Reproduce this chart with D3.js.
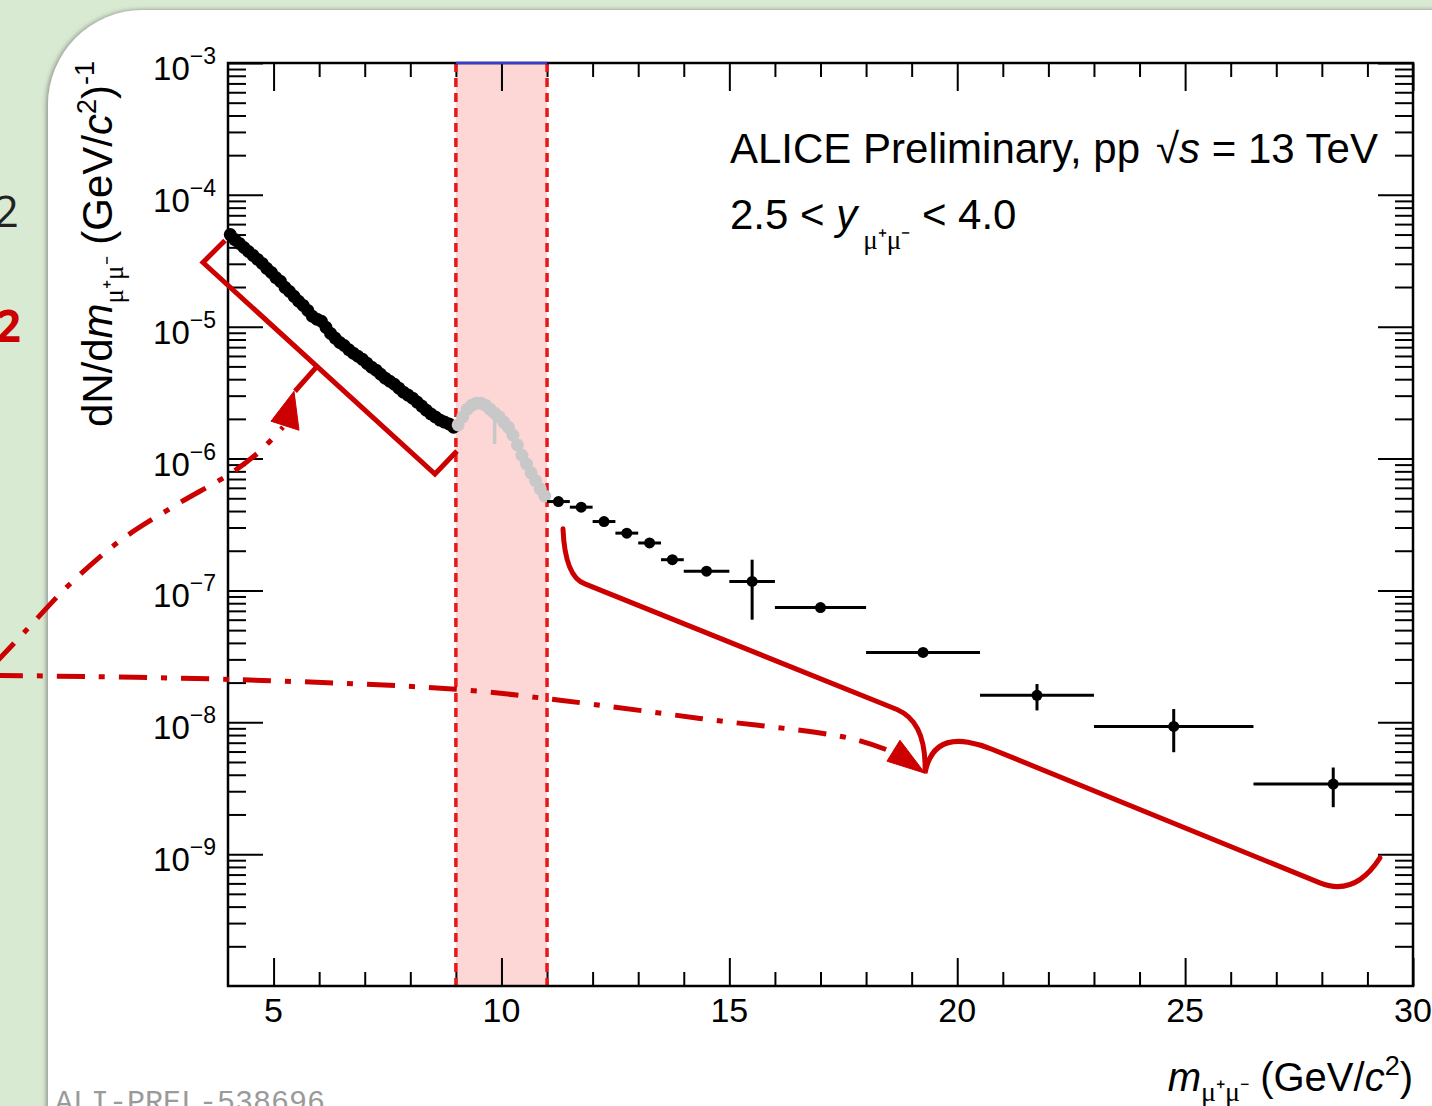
<!DOCTYPE html>
<html><head><meta charset="utf-8">
<script src="https://cdn.jsdelivr.net/npm/d3@7"></script>
<style>
html,body{margin:0;padding:0;background:#d9ead3;overflow:hidden;}
svg{display:block;}
</style></head><body>
<svg id="c" width="1432" height="1106"></svg>
<script>
// ---------------- data ----------------
// low-mass continuum (black, 0.1 GeV bins)
const lowMassX = [4.05,4.15,4.25,4.35,4.45,4.55,4.65,4.75,4.85,4.95,5.05,5.15,5.25,5.35,5.45,5.55,5.65,5.75,5.85,5.95,
  6.05,6.15,6.25,6.35,6.45,6.55,6.65,6.75,6.85,6.95,7.05,7.15,7.25,7.35,7.45,7.55,7.65,7.75,7.85,7.95,
  8.05,8.15,8.25,8.35,8.45,8.55,8.65,8.75,8.85,8.95];
const lowMassY = [5.00e-5,4.58e-5,4.28e-5,3.99e-5,3.72e-5,3.47e-5,3.24e-5,3.02e-5,2.77e-5,2.58e-5,
  2.36e-5,2.21e-5,1.99e-5,1.85e-5,1.70e-5,1.56e-5,1.45e-5,1.33e-5,1.20e-5,1.14e-5,
  1.10e-5,9.9e-6,8.9e-6,8.2e-6,7.6e-6,7.2e-6,6.7e-6,6.3e-6,5.97e-6,5.66e-6,
  5.28e-6,4.93e-6,4.68e-6,4.36e-6,4.07e-6,3.86e-6,3.66e-6,3.42e-6,3.19e-6,3.03e-6,
  2.87e-6,2.68e-6,2.50e-6,2.33e-6,2.18e-6,2.07e-6,1.96e-6,1.89e-6,1.83e-6,1.73e-6];
// Upsilon region (grey, 0.1 GeV bins)
const upsX = [9.05,9.15,9.25,9.35,9.45,9.55,9.65,9.75,9.85,9.95,10.05,10.15,10.25,10.35,10.45,10.55,10.65,10.75,10.85,10.95];
const upsY = [1.80e-6,2.07e-6,2.37e-6,2.54e-6,2.63e-6,2.63e-6,2.54e-6,2.37e-6,2.21e-6,2.07e-6,
  1.89e-6,1.73e-6,1.51e-6,1.27e-6,1.06e-6,9.1e-7,7.8e-7,6.8e-7,5.9e-7,5.2e-7];
const upsBarX = [9.85], upsBarLo = [1.29e-6], upsBarHi = [2.40e-6];
// high-mass points (black, variable bins)
const highX   = [11.25,11.75,12.25,12.75,13.25,13.75,14.5,15.5,17,19.25,21.75,24.75,28.25];
const highXlo = [11,11.5,12,12.5,13,13.5,14,15,16,18,20.5,23,26.5];
const highXhi = [11.5,12,12.5,13,13.5,14,15,16,18,20.5,23,26.5,30];
const highY   = [4.72e-7,4.28e-7,3.33e-7,2.72e-7,2.29e-7,1.71e-7,1.40e-7,1.17e-7,7.41e-8,3.39e-8,1.60e-8,9.3e-9,3.40e-9];
const highYlo = [4.45e-7,4.03e-7,3.12e-7,2.55e-7,2.14e-7,1.60e-7,1.31e-7,6.0e-8,7.05e-8,3.18e-8,1.23e-8,5.93e-9,2.27e-9];
const highYhi = [5.00e-7,4.54e-7,3.55e-7,2.90e-7,2.45e-7,1.83e-7,1.50e-7,1.71e-7,7.80e-8,3.62e-8,1.95e-8,1.26e-8,4.54e-9];
// excluded band
const bandRange = [9, 11];
// axis ticks
const xTicks = [5,10,15,20,25,30];
const xMinorTicks = [6,7,8,9,11,12,13,14,16,17,18,19,21,22,23,24,26,27,28,29];
const yTickExps = [-3,-4,-5,-6,-7,-8,-9];
// slide annotations (data coordinates)
const bracketPts = [[3.934,4.51e-5],[3.451,3.07e-5],[8.541,7.64e-7],[9.024,1.14e-6]];
const stubPts = [[5.953,5.01e-6],[5.470,3.24e-6]];
const arrow1Tri = [[5.448,3.24e-6],[4.943,1.92e-6],[5.558,1.64e-6]];
const dashCurve1 = [[-1.112,2.79e-8],[-0.454,4.88e-8],[0.534,1.12e-7],[1.631,2.38e-7],[2.793,4.31e-7],[4.110,7.93e-7],[4.702,1.14e-6],[5.207,1.73e-6]];
const dashCurve2 = [[-1.112,2.27e-8],[4.110,2.11e-8],[9.002,1.78e-8],[11.284,1.47e-8],[14.356,1.07e-8],[17.646,7.57e-9],[18.480,6.14e-9]];
const arrow2Tri = [[19.292,4.11e-9],[18.458,5.07e-9],[18.743,7.31e-9]];
const braceSegs = [
  ['M',[11.350,2.93e-7]],
  ['Q',[11.394,1.27e-7],[11.832,1.12e-7]],
  ['L',[18.678,1.25e-8]],
  ['Q',[19.336,1.00e-8],[19.292,4.11e-9]],
  ['Q',[19.445,7.84e-9],[20.235,7.06e-9]],
  ['Q',[20.499,6.82e-9],[20.762,6.25e-9]],
  ['L',[27.958,6.05e-10]],
  ['Q',[28.726,4.74e-10],[29.274,9.36e-10]]
];

// ---------------- drawing ----------------
const W = 1432, H = 1106;
const FONT = '"Liberation Sans", Arial, Helvetica, sans-serif';
const SERIF = '"Liberation Serif", "Times New Roman", serif';
const RED = '#cc0000';
const svg = d3.select('#c');

const x = d3.scaleLinear().domain([4, 30]).range([228, 1413]);
const y = d3.scaleLog().domain([1e-10, 1e-3]).range([986, 63]);
const X0 = x.range()[0], X1 = x.range()[1], Y0 = y.range()[1], Y1 = y.range()[0];

// slide background + card
svg.append('rect').attr('width', W).attr('height', H).attr('fill', '#d9ead3');
const defs = svg.append('defs');
const flt = defs.append('filter').attr('id', 'sh').attr('x', '-5%').attr('y', '-5%').attr('width', '110%').attr('height', '110%');
flt.append('feDropShadow').attr('dx', -1.5).attr('dy', 0).attr('stdDeviation', 2.5)
  .attr('flood-color', '#666').attr('flood-opacity', 0.7);
svg.append('path').attr('d', 'M48,1140 L48,105 A95,95 0 0 1 143,10 L1480,10 L1480,1140 Z')
  .attr('fill', '#fff').attr('filter', 'url(#sh)');

// cut-off slide text on the left
svg.append('text').attr('x', 19).attr('y', 227).attr('text-anchor', 'end')
  .style('font-family', '"Open Sans", sans-serif').style('font-size', '44px').attr('fill', '#222').text('2');
svg.append('text').attr('x', 21).attr('y', 342).attr('text-anchor', 'end')
  .style('font-family', '"Open Sans", sans-serif').style('font-size', '44px').style('font-weight', 'bold')
  .attr('fill', RED).text('2');

// excluded band
svg.append('rect').attr('x', x(bandRange[0])).attr('y', Y0).attr('width', x(bandRange[1]) - x(bandRange[0]))
  .attr('height', Y1 - Y0).attr('fill', '#fdd6d6');

// axes ticks
function styleAxis(g) {
  g.select('.domain').remove();
  g.selectAll('line').attr('stroke', '#000').attr('stroke-width', 2);
  g.selectAll('text').remove();
}
const majorsY = yTickExps.map(e => Math.pow(10, e));
const minorsY = [];
for (let e = -10; e < -3; e++) for (let k = 2; k <= 9; k++) minorsY.push(k * Math.pow(10, e));

svg.append('g').attr('transform', `translate(${X0},0)`).call(d3.axisLeft(y).tickValues(majorsY).tickSize(-35).tickFormat('')).call(styleAxis);
svg.append('g').attr('transform', `translate(${X0},0)`).call(d3.axisLeft(y).tickValues(minorsY).tickSize(-18).tickFormat('')).call(styleAxis);
svg.append('g').attr('transform', `translate(${X1},0)`).call(d3.axisRight(y).tickValues(majorsY).tickSize(-35).tickFormat('')).call(styleAxis);
svg.append('g').attr('transform', `translate(${X1},0)`).call(d3.axisRight(y).tickValues(minorsY).tickSize(-18).tickFormat('')).call(styleAxis);
svg.append('g').attr('transform', `translate(0,${Y1})`).call(d3.axisBottom(x).tickValues(xTicks).tickSize(-28).tickFormat('')).call(styleAxis);
svg.append('g').attr('transform', `translate(0,${Y1})`).call(d3.axisBottom(x).tickValues(xMinorTicks).tickSize(-14).tickFormat('')).call(styleAxis);
svg.append('g').attr('transform', `translate(0,${Y0})`).call(d3.axisTop(x).tickValues(xTicks).tickSize(-28).tickFormat('')).call(styleAxis);
svg.append('g').attr('transform', `translate(0,${Y0})`).call(d3.axisTop(x).tickValues(xMinorTicks).tickSize(-14).tickFormat('')).call(styleAxis);

// band edges
bandRange.forEach(v => {
  svg.append('line').attr('x1', x(v)).attr('x2', x(v)).attr('y1', Y0).attr('y2', Y1)
    .attr('stroke', '#e81818').attr('stroke-width', 3.5).attr('stroke-dasharray', '9,6');
});

// frame
svg.append('rect').attr('x', X0).attr('y', Y0).attr('width', X1 - X0).attr('height', Y1 - Y0)
  .attr('fill', 'none').attr('stroke', '#000').attr('stroke-width', 2.5);
svg.append('line').attr('x1', x(bandRange[0])).attr('x2', x(bandRange[1])).attr('y1', Y0).attr('y2', Y0)
  .attr('stroke', '#3a3acc').attr('stroke-width', 2.5);

// tick labels
yTickExps.forEach(e => {
  const t = svg.append('text').attr('x', 216).attr('y', y(Math.pow(10, e)) + 17).attr('text-anchor', 'end')
    .style('font-family', FONT).style('font-size', '33px').attr('fill', '#000');
  t.append('tspan').text('10');
  t.append('tspan').attr('dy', -16).style('font-size', '23px').text('\u2212' + Math.abs(e));
});
xTicks.forEach(v => {
  svg.append('text').attr('x', x(v)).attr('y', 1022).attr('text-anchor', 'middle')
    .style('font-family', FONT).style('font-size', '34px').attr('fill', '#000').text(v);
});

// axis titles
{
  const t = svg.append('text').attr('x', X1).attr('y', 1091).attr('text-anchor', 'end')
    .style('font-family', FONT).style('font-size', '40px').attr('fill', '#000');
  t.append('tspan').style('font-style', 'italic').text('m');
  t.append('tspan').attr('dy', 10).style('font-size', '28px').style('font-family', SERIF).text('\u03bc\u207a\u03bc\u207b');
  t.append('tspan').attr('dy', -10).text(' (GeV/');
  t.append('tspan').style('font-style', 'italic').text('c');
  t.append('tspan').attr('dy', -16).style('font-size', '27px').text('2');
  t.append('tspan').attr('dy', 16).text(')');
}
{
  const t = svg.append('text').attr('transform', `translate(112,${Y0 - 2}) rotate(-90)`).attr('text-anchor', 'end')
    .style('font-family', FONT).style('font-size', '42px').attr('fill', '#000');
  t.append('tspan').text('dN/d');
  t.append('tspan').style('font-style', 'italic').text('m');
  t.append('tspan').attr('dy', 11).style('font-size', '27px').style('font-family', SERIF).text('\u03bc\u207a\u03bc\u207b');
  t.append('tspan').attr('dy', -11).text(' (GeV/');
  t.append('tspan').style('font-style', 'italic').text('c');
  t.append('tspan').attr('dy', -16).style('font-size', '27px').text('2');
  t.append('tspan').attr('dy', 16).text(')');
  t.append('tspan').attr('dy', -18).style('font-size', '27px').text('-1');
}

// legend text
{
  const t = svg.append('text').attr('x', 730).attr('y', 163)
    .style('font-family', FONT).style('font-size', '42px').attr('fill', '#000');
  t.append('tspan').text('ALICE Preliminary, pp');
  t.append('tspan').attr('dx', 16).style('font-weight', '300').text('\u221a');
  t.append('tspan').style('font-style', 'italic').text('s');
  t.append('tspan').text(' = 13 TeV');
  const t2 = svg.append('text').attr('x', 730).attr('y', 229)
    .style('font-family', FONT).style('font-size', '42px').attr('fill', '#000');
  t2.append('tspan').text('2.5 < ');
  t2.append('tspan').style('font-style', 'italic').text('y');
  t2.append('tspan').attr('dy', 20).attr('dx', 6).style('font-size', '27px').style('font-family', SERIF).text('\u03bc\u207a\u03bc\u207b');
  t2.append('tspan').attr('dy', -20).text(' < 4.0');
}

// data: low mass
svg.append('g').selectAll('circle').data(lowMassX).join('circle')
  .attr('cx', d => x(d)).attr('cy', (d, i) => y(lowMassY[i])).attr('r', 6.5).attr('fill', '#000');
// upsilon region
svg.append('g').selectAll('line').data(upsBarX).join('line')
  .attr('x1', d => x(d)).attr('x2', d => x(d))
  .attr('y1', (d, i) => y(upsBarLo[i])).attr('y2', (d, i) => y(upsBarHi[i]))
  .attr('stroke', '#c8c8c8').attr('stroke-width', 3.5);
svg.append('g').selectAll('circle').data(upsX).join('circle')
  .attr('cx', d => x(d)).attr('cy', (d, i) => y(upsY[i])).attr('r', 6.5).attr('fill', '#c8c8c8');
// high mass
const gh = svg.append('g');
gh.selectAll('line.h').data(highX).join('line').attr('class', 'h')
  .attr('x1', (d, i) => x(highXlo[i])).attr('x2', (d, i) => x(highXhi[i]))
  .attr('y1', (d, i) => y(highY[i])).attr('y2', (d, i) => y(highY[i]))
  .attr('stroke', '#000').attr('stroke-width', 3);
gh.selectAll('line.v').data(highX).join('line').attr('class', 'v')
  .attr('x1', d => x(d)).attr('x2', d => x(d))
  .attr('y1', (d, i) => y(highYlo[i])).attr('y2', (d, i) => y(highYhi[i]))
  .attr('stroke', '#000').attr('stroke-width', 3);
gh.selectAll('circle').data(highX).join('circle')
  .attr('cx', d => x(d)).attr('cy', (d, i) => y(highY[i])).attr('r', 5.5).attr('fill', '#000');

// annotations
const P = p => [x(p[0]), y(p[1])];
const lineGen = d3.line().x(p => x(p[0])).y(p => y(p[1]));
const curveGen = d3.line().x(p => x(p[0])).y(p => y(p[1])).curve(d3.curveCatmullRom);
const ann = svg.append('g').attr('fill', 'none').attr('stroke', RED).attr('stroke-width', 5)
  .attr('stroke-linejoin', 'miter');
ann.append('path').attr('d', lineGen(bracketPts));
ann.append('path').attr('d', lineGen(stubPts));
ann.append('path').attr('d', curveGen(dashCurve1)).attr('stroke-dasharray', '28,14,6,14');
ann.append('path').attr('d', curveGen(dashCurve2)).attr('stroke-dasharray', '28,14,6,14');
let bd = '';
braceSegs.forEach(s => {
  if (s[0] === 'Q') { const c = P(s[1]), e = P(s[2]); bd += `Q${c[0]},${c[1]} ${e[0]},${e[1]} `; }
  else { const e = P(s[1]); bd += `${s[0]}${e[0]},${e[1]} `; }
});
ann.append('path').attr('d', bd).attr('stroke-linecap', 'round');
[arrow1Tri, arrow2Tri].forEach(tri => {
  svg.append('path').attr('d', lineGen(tri) + 'Z').attr('fill', RED).attr('stroke', RED).attr('stroke-width', 1);
});

// watermark
svg.append('text').attr('x', 55).attr('y', 1111)
  .style('font-family', '"Liberation Mono", "Courier New", monospace').style('font-size', '30px')
  .attr('fill', '#9a9a9a').text('ALI-PREL-538696');
</script>
</body></html>
